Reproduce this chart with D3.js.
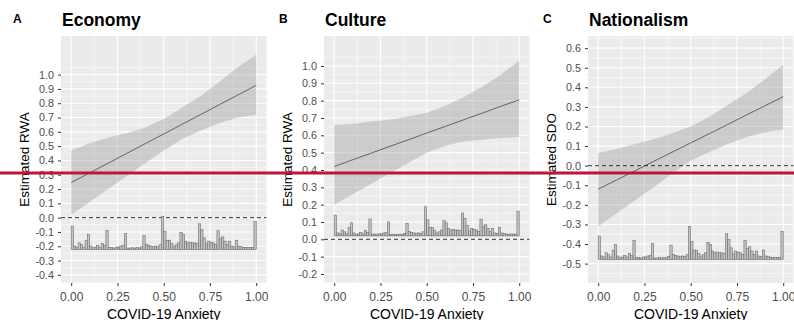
<!DOCTYPE html>
<html>
<head>
<meta charset="utf-8">
<script src="https://cdn.jsdelivr.net/npm/d3@7"></script>
<style>
  body { margin: 0; background: #fff; }
  svg { display: block; font-family: "Liberation Sans", Arial, sans-serif; }
</style>
</head>
<body>
<div id="chart"></div>
<script>
// x positions where the fitted line and ribbon were read
const anxiety = [0, 0.1, 0.2, 0.3, 0.4, 0.5, 0.6, 0.7, 0.8, 0.9, 1.0];

// Economy (RWA)
const econFit   = [0.245, 0.313, 0.381, 0.449, 0.517, 0.585, 0.653, 0.721, 0.789, 0.857, 0.925];
const econLower = [0.02, 0.11, 0.20, 0.29, 0.38, 0.47, 0.55, 0.61, 0.66, 0.70, 0.72];
const econUpper = [0.47, 0.52, 0.56, 0.59, 0.63, 0.69, 0.77, 0.85, 0.95, 1.05, 1.14];

// Culture (RWA)
const cultFit   = [0.42, 0.459, 0.497, 0.536, 0.574, 0.613, 0.651, 0.690, 0.728, 0.767, 0.805];
const cultLower = [0.20, 0.26, 0.32, 0.38, 0.44, 0.50, 0.54, 0.565, 0.575, 0.585, 0.59];
const cultUpper = [0.66, 0.665, 0.68, 0.69, 0.71, 0.73, 0.77, 0.82, 0.88, 0.95, 1.03];

// Nationalism (SDO)
const natFit   = [-0.12, -0.073, -0.026, 0.022, 0.069, 0.116, 0.163, 0.210, 0.258, 0.305, 0.352];
const natLower = [-0.31, -0.243, -0.176, -0.11, -0.04, 0.025, 0.07, 0.11, 0.145, 0.17, 0.185];
const natUpper = [0.065, 0.085, 0.11, 0.135, 0.165, 0.20, 0.25, 0.31, 0.37, 0.44, 0.515];

// distribution of COVID-19 anxiety, 80 bins over [0,1], relative counts
const histCounts = [
  71, 10, 7, 20, 14, 7, 28, 45, 10, 5, 7, 12, 7, 18, 12, 58, 6, 6, 4, 7,
  7, 10, 12, 48, 4, 4, 5, 4, 6, 4, 8, 43, 15, 12, 10, 8, 10, 8, 14, 100,
  55, 28, 28, 18, 10, 14, 20, 52, 45, 25, 20, 22, 20, 20, 18, 78, 60, 35, 17, 25,
  22, 20, 15, 57, 33, 38, 25, 15, 25, 10, 8, 28, 10, 8, 6, 6, 6, 6, 6, 85
];

const xTicks = [0, 0.25, 0.5, 0.75, 1];
const econTicks = d3.range(-4, 11).map(d => d / 10);
const cultTicks = d3.range(-2, 11).map(d => d / 10);
const natTicks  = d3.range(-5, 7).map(d => d / 10);

const panels = [
  { letter: "A", title: "Economy", ylab: "Estimated RWA", left: 61,
    fit: econFit, lower: econLower, upper: econUpper, ticks: econTicks,
    yDomain: [-0.457, 1.27], histBase: -0.222, histTop: 0.007 },
  { letter: "B", title: "Culture", ylab: "Estimated RWA", left: 324,
    fit: cultFit, lower: cultLower, upper: cultUpper, ticks: cultTicks,
    yDomain: [-0.252, 1.173], histBase: 0.02, histTop: 0.188 },
  { letter: "C", title: "Nationalism", ylab: "Estimated SDO", left: 588,
    fit: natFit, lower: natLower, upper: natUpper, ticks: natTicks,
    yDomain: [-0.599, 0.662], histBase: -0.478, histTop: -0.311 }
];

const width = 794, height = 320;
const plotTop = 36, plotBottom = 283, plotW = 205.4;

const svg = d3.select("#chart").append("svg")
  .attr("width", width)
  .attr("height", height);

panels.forEach(p => {
  const x = d3.scaleLinear().domain([-0.055, 1.055]).range([p.left, p.left + plotW]);
  const y = d3.scaleLinear().domain(p.yDomain).range([plotBottom, plotTop]);
  const g = svg.append("g");

  // panel background
  g.append("rect")
    .attr("x", p.left).attr("y", plotTop)
    .attr("width", plotW).attr("height", plotBottom - plotTop)
    .attr("fill", "#ebebeb");

  // grid: minor lines half way between breaks
  const step = 0.1;
  const yMinor = d3.range(p.ticks[0] - step / 2, p.ticks[p.ticks.length - 1] + step, step)
    .filter(v => v > p.yDomain[0] && v < p.yDomain[1]);
  const xMinor = [-0.125, 0.125, 0.375, 0.625, 0.875, 1.125].filter(v => v > -0.055 && v < 1.055);

  g.selectAll(".ymin").data(yMinor).enter().append("line")
    .attr("x1", p.left).attr("x2", p.left + plotW)
    .attr("y1", d => y(d)).attr("y2", d => y(d))
    .attr("stroke", "#fff").attr("stroke-width", 0.55);
  g.selectAll(".xmin").data(xMinor).enter().append("line")
    .attr("x1", d => x(d)).attr("x2", d => x(d))
    .attr("y1", plotTop).attr("y2", plotBottom)
    .attr("stroke", "#fff").attr("stroke-width", 0.55);
  g.selectAll(".ymaj").data(p.ticks).enter().append("line")
    .attr("x1", p.left).attr("x2", p.left + plotW)
    .attr("y1", d => y(d)).attr("y2", d => y(d))
    .attr("stroke", "#fff").attr("stroke-width", 1.1);
  g.selectAll(".xmaj").data(xTicks).enter().append("line")
    .attr("x1", d => x(d)).attr("x2", d => x(d))
    .attr("y1", plotTop).attr("y2", plotBottom)
    .attr("stroke", "#fff").attr("stroke-width", 1.1);

  // confidence ribbon
  const band = anxiety.map((a, i) => ({ a, lo: p.lower[i], hi: p.upper[i] }));
  g.append("path")
    .datum(band)
    .attr("d", d3.area().x(d => x(d.a)).y0(d => y(d.lo)).y1(d => y(d.hi)))
    .attr("fill", "#999")
    .attr("fill-opacity", 0.38);

  // fitted line
  g.append("path")
    .datum(anxiety.map((a, i) => [a, p.fit[i]]))
    .attr("d", d3.line().x(d => x(d[0])).y(d => y(d[1])))
    .attr("fill", "none")
    .attr("stroke", "#333")
    .attr("stroke-width", 0.7);

  // zero reference
  g.append("line")
    .attr("x1", p.left).attr("x2", p.left + plotW)
    .attr("y1", y(0)).attr("y2", y(0))
    .attr("stroke", "#000").attr("stroke-width", 0.8)
    .attr("stroke-dasharray", "4,3");

  // histogram of the moderator
  const binW = 1 / histCounts.length;
  const maxCount = d3.max(histCounts);
  const h = d3.scaleLinear().domain([0, maxCount]).range([p.histBase, p.histTop]);
  g.selectAll(".bar").data(histCounts).enter().append("rect")
    .attr("x", (d, i) => x(i * binW))
    .attr("width", x(binW) - x(0))
    .attr("y", d => y(h(d)))
    .attr("height", d => y(p.histBase) - y(h(d)))
    .attr("fill", "#c4c4c4")
    .attr("stroke", "#6e6e6e")
    .attr("stroke-width", 0.6);

  // y axis
  const yAxis = g.append("g")
    .attr("transform", `translate(${p.left},0)`)
    .call(d3.axisLeft(y).tickValues(p.ticks).tickSize(3).tickPadding(4));
  yAxis.select(".domain").remove();
  yAxis.selectAll("line").attr("stroke", "#333");
  yAxis.selectAll("text").attr("fill", "#4d4d4d").style("font-size", "10.8px")
    .text(d => d3.format(".1f")(d).replace("\u2212", "-"));

  // x axis
  const xAxis = g.append("g")
    .attr("transform", `translate(0,${plotBottom})`)
    .call(d3.axisBottom(x).tickValues(xTicks).tickFormat(d3.format(".2f")).tickSize(3).tickPadding(6));
  xAxis.select(".domain").remove();
  xAxis.selectAll("line").attr("stroke", "#333");
  xAxis.selectAll("text").attr("fill", "#4d4d4d").style("font-size", "12px");

  // titles
  g.append("text")
    .attr("x", p.left - 48 + (p.letter === "A" ? 0 : 3)).attr("y", 23)
    .attr("font-weight", "bold").attr("font-size", 12)
    .text(p.letter);
  g.append("text")
    .attr("x", p.left + 1).attr("y", 26)
    .attr("font-weight", "bold").attr("font-size", 17.5)
    .text(p.title);
  g.append("text")
    .attr("transform", `translate(${p.left - 37},${(plotTop + plotBottom) / 2}) rotate(-90)`)
    .attr("text-anchor", "middle").attr("dy", "0.35em")
    .attr("font-size", 13.5)
    .text(p.ylab);
  g.append("text")
    .attr("x", p.left + plotW / 2).attr("y", 318.5)
    .attr("text-anchor", "middle")
    .attr("font-size", 14)
    .text("COVID-19 Anxiety");
});

// red highlight rule drawn across the figure
svg.append("line")
  .attr("x1", 0).attr("x2", width)
  .attr("y1", 173).attr("y2", 173)
  .attr("stroke", "#c0143c")
  .attr("stroke-width", 3.2);
</script>
</body>
</html>
